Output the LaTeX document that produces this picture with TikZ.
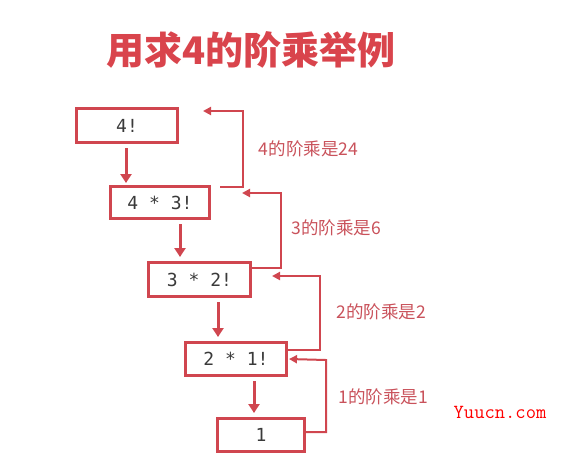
\documentclass[tikz,border=0pt]{standalone}
\usepackage{fontspec}
\newfontfamily\cjk{Noto Sans CJK SC}
\newfontfamily\mono{DejaVu Sans Mono}
\newfontfamily\wmfont{Latin Modern Mono}
\usetikzlibrary{arrows.meta}
\definecolor{boxred}{HTML}{D0464F}
\definecolor{titlered}{HTML}{D9444C}
\definecolor{labred}{HTML}{C9525B}
\definecolor{txtgray}{HTML}{3A3A3A}
\tikzset{
  box/.style={draw=boxred, line width=3pt, fill=white, inner sep=0pt,
    font=\mono\fontsize{18}{18}\selectfont, text=txtgray},
  down/.style={draw=boxred, line width=3pt, -{Triangle[length=9pt,width=11pt]}},
  ret/.style={draw=boxred, line width=2pt, -{Triangle[length=8pt,width=8pt]}},
  lab/.style={font=\cjk\fontsize{17.5}{17.5}\selectfont, text=labred, inner sep=0pt},
}
\begin{document}
\begin{tikzpicture}[x=1pt,y=-1pt]
\useasboundingbox (0,0) rectangle (562,467);
\node[font=\cjk\bfseries\fontsize{38}{38}\selectfont, text=titlered] (title) at (251,50) {用求4的阶乘举例};
\node[box, minimum width=101pt, minimum height=34pt] (b1) at (127,125.5) {4!};
\node[box, minimum width=99pt, minimum height=32pt] (b2) at (160,202.5) {4 * 3!};
\node[box, minimum width=102pt, minimum height=34pt] (b3) at (199.5,279.5) {3 * 2!};
\node[box, minimum width=101pt, minimum height=33pt] (b4) at (236,359) {2 * 1!};
\node[box, minimum width=87pt, minimum height=33pt] (b5) at (261,435) {1};
% down arrows
\draw[down] ([xshift=-1pt,yshift=-4pt]b1.south) -- ([xshift=-34pt,yshift=2pt]b2.north);
\draw[down] ([xshift=20pt,yshift=-4pt]b2.south) -- ([xshift=-19.5pt,yshift=4pt]b3.north);
\draw[down] ([xshift=18.5pt,yshift=-4pt]b3.south) -- ([xshift=-18pt,yshift=4pt]b4.north);
\draw[down] ([xshift=18pt,yshift=-4pt]b4.south) -- ([xshift=-7pt,yshift=4pt]b5.north);
% return arrows
\coordinate (sA) at ([yshift=3pt]b5.east);
\coordinate (eA) at ([xshift=1pt]b4.east);
\draw[ret] (sA) -| (326,360) -- (eA);
\coordinate (sB) at (288,350);
\coordinate (eB) at (272,276);
\draw[ret] (sB) -| (320,276) -- (eB);
\coordinate (sC) at (252,268);
\coordinate (eC) at (242,193);
\draw[ret] (sC) -| (281,193) -- (eC);
\coordinate (sD) at (220,187);
\coordinate (eD) at (203,111);
\draw[ret] (sD) -| (243,111) -- (eD);
% labels
\node[lab] (lA) at (383,397) {1的阶乘是1};
\node[lab] (lB) at (381,312) {2的阶乘是2};
\node[lab] (lC) at (336,228) {3的阶乘是6};
\node[lab] (lD) at (308.5,149) {4的阶乘是24};
\node[font=\wmfont\fontsize{20}{20}\selectfont, text=red, inner sep=0pt] (wm) at (500,412) {Yuucn.com};
\end{tikzpicture}
\end{document}
